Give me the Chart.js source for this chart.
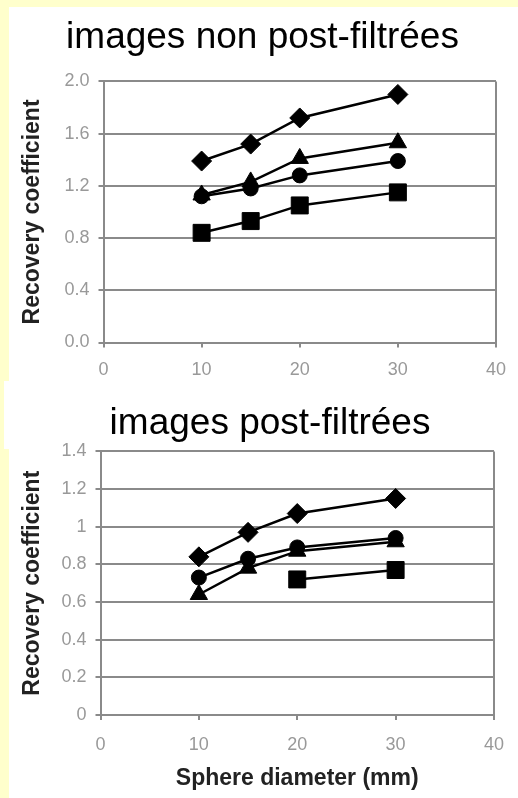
<!DOCTYPE html>
<html>
<head>
<meta charset="utf-8">
<script src="https://cdn.jsdelivr.net/npm/chart.js@4.4.0/dist/chart.umd.min.js"></script>
<style>
  html, body { margin: 0; padding: 0; }
  body { width: 518px; height: 798px; background: #ffffcc; position: relative; overflow: hidden; }
  .panel { position: absolute; background: #fff; }
  canvas { position: absolute; left: 0; }
</style>
</head>
<body>
<div class="panel" style="left:9px; top:7px; width:509px; height:374px;"></div>
<div class="panel" style="left:4px; top:381px; width:514px; height:68px;"></div>
<div class="panel" style="left:9px; top:449px; width:509px; height:349px;"></div>
<canvas id="topChart" width="518" height="381" style="top:0;"></canvas>
<canvas id="bottomChart" width="518" height="417" style="top:381px;"></canvas>
<script>
// sphere diameters (mm)
var diameters = [10, 15, 20, 30];

// images non post-filtrees
var rawDiamond = [1.39, 1.52, 1.72, 1.90];
var rawTriangle = [1.13, 1.23, 1.41, 1.53];
var rawCircle = [1.12, 1.18, 1.28, 1.39];
var rawSquare = [0.84, 0.93, 1.05, 1.15];

// images post-filtrees
var filtDiamond = [0.84, 0.97, 1.07, 1.15];
var filtCircle = [0.73, 0.83, 0.89, 0.94];
var filtTriangle = [0.64, 0.78, 0.87, 0.92];
var filtSquare = [null, null, 0.72, 0.77];

var xTicks = [0, 10, 20, 30, 40];
var topTicks = [0, 0.4, 0.8, 1.2, 1.6, 2.0];
var bottomTicks = [0, 0.2, 0.4, 0.6, 0.8, 1, 1.2, 1.4];

Chart.defaults.font.family = "'Liberation Sans', Arial, sans-serif";
Chart.defaults.animation = false;

var gridGrey = "#8a8a8a";

function points(values) {
  var out = [];
  for (var i = 0; i < diameters.length; i++) {
    if (values[i] !== null) out.push({ x: diameters[i], y: values[i] });
  }
  return out;
}

function series(values, style, radius) {
  return {
    data: points(values),
    pointStyle: style,
    pointRadius: radius,
    borderColor: "#000",
    backgroundColor: "#000",
    pointBackgroundColor: "#000",
    pointBorderColor: "#000",
    borderWidth: 2.5,
    pointBorderWidth: 1,
    showLine: true,
    fill: false
  };
}

function makeChart(id, opts) {
  return new Chart(document.getElementById(id).getContext("2d"), {
    type: "scatter",
    data: {
      datasets: opts.datasets
    },
    options: {
      responsive: false,
      layout: { padding: { left: opts.left, right: opts.right, top: 0, bottom: 0 } },
      plugins: {
        legend: { display: false },
        tooltip: { enabled: false },
        title: {
          display: true,
          text: opts.title,
          color: "#000",
          font: { size: 37, weight: "normal" },
          padding: opts.titlePad
        }
      },
      scales: {
        x: {
          type: "linear",
          min: 0,
          max: 40,
          afterFit: function (scale) { scale.height = opts.xHeight; },
          afterBuildTicks: function (scale) {
            scale.ticks = xTicks.map(function (v) { return { value: v }; });
          },
          grid: {
            drawOnChartArea: true,
            color: function (c) { return c.tick && c.tick.value === 40 ? gridGrey : "rgba(0,0,0,0)"; },
            tickColor: gridGrey,
            tickLength: 5,
            lineWidth: 2
          },
          border: { color: gridGrey, width: 2 },
          ticks: { color: "#999", font: { size: 18 }, padding: opts.xTickPad },
          title: opts.xTitle ? {
            display: true,
            text: opts.xTitle,
            color: "#222",
            font: { size: 23, weight: "bold" },
            padding: { top: 0, bottom: 6 }
          } : { display: false }
        },
        y: {
          min: 0,
          max: opts.yMax,
          afterFit: function (scale) { scale.width = opts.yWidth; },
          afterBuildTicks: function (scale) {
            scale.ticks = opts.yTicks.map(function (v) { return { value: v }; });
          },
          grid: { color: gridGrey, tickColor: gridGrey, tickLength: 5, lineWidth: 2 },
          border: { color: gridGrey, width: 2 },
          ticks: {
            color: "#999",
            font: { size: 18 },
            padding: 9,
            callback: opts.yFormat
          },
          title: {
            display: true,
            text: "Recovery coefficient",
            color: "#222",
            font: { size: 23, weight: "bold" },
            padding: { top: opts.yTitlePad, bottom: 0 }
          }
        }
      }
    }
  });
}

makeChart("topChart", {
  title: "images non post-filtrées",
  titlePad: { top: 16, bottom: 21 },
  left: 24,
  right: 17,
  xHeight: 38.5,
  xTickPad: 12,
  yWidth: 79.5,
  yTitlePad: -4.8,
  yMax: 2.0,
  yTicks: topTicks,
  yFormat: function (v) { return v.toFixed(1); },
  datasets: [
    series(rawDiamond, "rectRot", 10),
    series(rawTriangle, "triangle", 10),
    series(rawCircle, "circle", 7.5),
    series(rawSquare, "rect", 12)
  ]
});

makeChart("bottomChart", {
  title: "images post-filtrées",
  titlePad: { top: 21, bottom: 5 },
  left: 41,
  right: 19,
  xHeight: 83,
  xTickPad: 14,
  xTitle: "Sphere diameter (mm)",
  yWidth: 59.5,
  yTitlePad: -21.8,
  yMax: 1.4,
  yTicks: bottomTicks,
  yFormat: function (v) { return String(v); },
  datasets: [
    series(filtDiamond, "rectRot", 10),
    series(filtCircle, "circle", 7.5),
    series(filtTriangle, "triangle", 10),
    series(filtSquare, "rect", 12)
  ]
});
</script>
</body>
</html>
